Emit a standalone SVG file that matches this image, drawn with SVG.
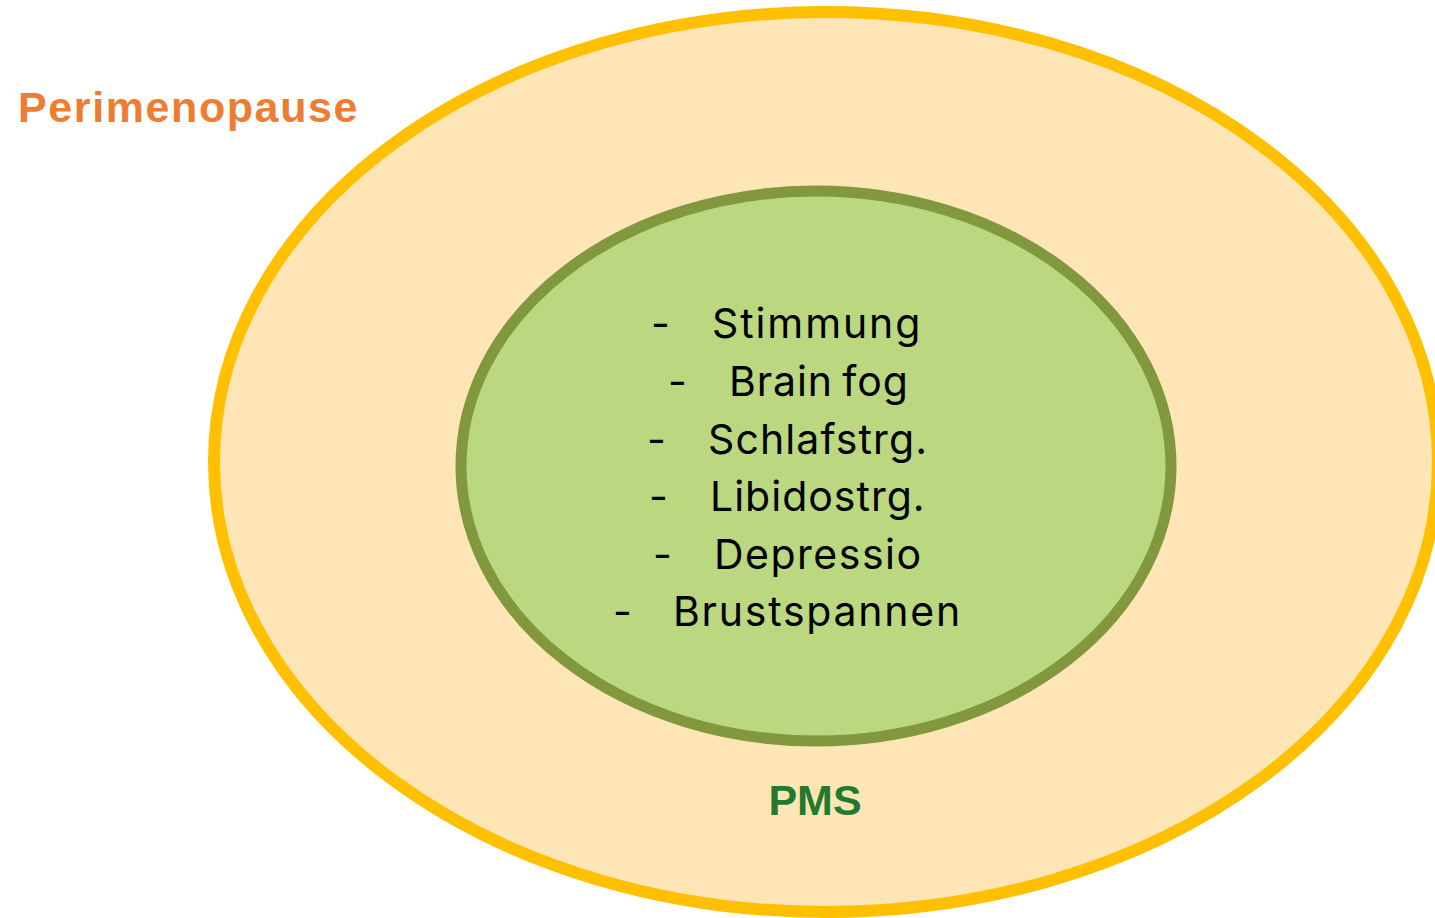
<svg xmlns="http://www.w3.org/2000/svg" width="1435" height="918" viewBox="0 0 1435 918">
<style>
.outer{fill:#FEE5B6;stroke:#FFC000;stroke-width:12}
.inner{fill:#BBD780;stroke:#82983F;stroke-width:11}
.item{font-family:Inter,"Liberation Sans",sans-serif;font-size:41px;fill:#000;letter-spacing:1.9px}
.title{font-family:"Liberation Sans",Arial,sans-serif;font-weight:bold;font-size:43px}
</style>
<rect width="1435" height="918" fill="#FFFFFF"/>
<g id="perimenopause">
<ellipse class="outer" cx="826" cy="462" rx="612" ry="450"/>
<text class="title" x="18" y="122" fill="#ED7D31" letter-spacing="1.6">Perimenopause</text>
</g>
<g id="pms">
<ellipse class="inner" cx="816" cy="466" rx="355" ry="275"/>
<text class="title" x="815" y="815" fill="#217A2D" text-anchor="middle" font-size="42">PMS</text>
<g class="item">
<text x="651" y="338">-</text><text x="712" y="338">Stimmung</text>
<text x="668" y="396">-</text><text x="729" y="396" word-spacing="-3" letter-spacing="0.9">Brain fog</text>
<text x="647" y="454">-</text><text x="708" y="454" letter-spacing="1.1">Schlafstrg.</text>
<text x="649" y="511">-</text><text x="710" y="511" letter-spacing="1.0">Libidostrg.</text>
<text x="653" y="569">-</text><text x="714" y="569" letter-spacing="1.5">Depressio</text>
<text x="613" y="626">-</text><text x="673" y="626" letter-spacing="1.75">Brustspannen</text>
</g>
</g>
<g id="connectors"/>
</svg>
